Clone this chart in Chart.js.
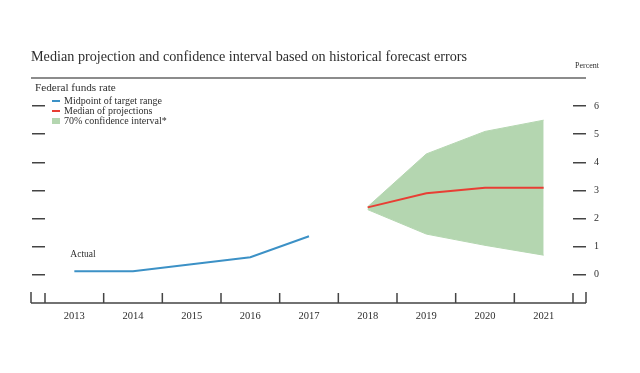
<!DOCTYPE html>
<html>
<head>
<meta charset="utf-8">
<title>Median projection and confidence interval</title>
<script src="https://cdn.jsdelivr.net/npm/chart.js@4.4.1/dist/chart.umd.min.js"></script>
<style>
  html, body { margin:0; padding:0; background:#fff; }
  #wrap { width:640px; height:373px; position:relative; }
</style>
</head>
<body>
<div id="wrap"><canvas id="fedChart"></canvas></div>
<script>
(function(){
  // values (percent)
  const years = ['2013','2014','2015','2016','2017','2018','2019','2020','2021'];
  const actualRate = [0.125, 0.125, 0.375, 0.625, 1.375, null, null, null, null];
  const medianProj = [null, null, null, null, null, 2.4, 2.9, 3.1, 3.1];
  const bandUpper  = [null, null, null, null, null, 2.42, 4.3, 5.1, 5.5];
  const bandLower  = [null, null, null, null, null, 2.32, 1.45, 1.05, 0.7];
  const yTicks = [0, 1, 2, 3, 4, 5, 6];

  const serif = "'Liberation Serif', 'DejaVu Serif', serif";
  const blue = 'rgb(60,145,198)';
  const red = 'rgb(232,62,52)';
  const green = 'rgb(180,214,176)';
  const ink = '#2e2e2e';
  const tickCol = '#444';

  // rule, x axis with upward ticks, key and small labels
  const decor = {
    id: 'decor',
    afterDraw(chart){
      const ctx = chart.ctx;
      const a = chart.chartArea;
      const x = chart.scales.x, y = chart.scales.y;
      const l = a.left - 14, r = a.right + 13;
      ctx.save();

      // grey rule under the title
      ctx.strokeStyle = '#8c8c8c';
      ctx.lineWidth = 2.2;
      ctx.beginPath(); ctx.moveTo(l, 78); ctx.lineTo(r, 78); ctx.stroke();

      // x axis
      ctx.strokeStyle = tickCol;
      ctx.lineWidth = 1.5;
      const base = a.bottom;
      const step = x.getPixelForValue(1) - x.getPixelForValue(0);
      const x0 = x.getPixelForValue(0) - step/2;
      ctx.beginPath();
      ctx.moveTo(l, base); ctx.lineTo(r, base);
      for(let i=0;i<=years.length;i++){
        const xi = x0 + i*step;
        ctx.moveTo(xi, base); ctx.lineTo(xi, base - 10);
      }
      ctx.moveTo(l, base); ctx.lineTo(l, base - 11);
      ctx.moveTo(r, base); ctx.lineTo(r, base - 11);
      ctx.stroke();

      // texts
      ctx.fillStyle = ink;
      ctx.textBaseline = 'middle';
      ctx.textAlign = 'right';
      ctx.font = '8px ' + serif;
      ctx.fillText('Percent', r + 13, 66);

      ctx.textAlign = 'left';
      ctx.font = '11.2px ' + serif;
      ctx.fillText('Federal funds rate', l + 4, 88);

      ctx.font = '9.5px ' + serif;
      ctx.fillText('Actual', x.getPixelForValue(0) - 4, y.getPixelForValue(actualRate[0]) - 17);

      // key
      ctx.font = '10px ' + serif;
      const keyX = a.left + 7;
      chart.data.datasets.slice(0, 3).forEach((ds, i) => {
        const cy = 101 + i*10;
        if(ds.fill){
          ctx.fillStyle = ds.backgroundColor;
          ctx.fillRect(keyX, cy - 3, 8, 6);
        } else {
          ctx.strokeStyle = ds.borderColor;
          ctx.lineWidth = ds.borderWidth;
          ctx.beginPath(); ctx.moveTo(keyX, cy); ctx.lineTo(keyX + 8, cy); ctx.stroke();
        }
        ctx.fillStyle = ink;
        ctx.fillText(ds.label, keyX + 12, cy);
      });
      ctx.restore();
    }
  };

  const tickAxis = (pos, width, showLabels) => ({
    position: pos,
    min: -1,
    max: 6.5,
    afterBuildTicks: s => { s.ticks = yTicks.map(v => ({value: v})); },
    grid: { drawOnChartArea: false, drawTicks: true, tickLength: 13, color: tickCol, lineWidth: 1.5 },
    border: { display: false },
    ticks: { display: showLabels, padding: 8, font: { family: serif, size: 10 }, color: ink },
    afterFit: s => { s.width = width; }
  });

  new Chart(document.getElementById('fedChart'), {
    type: 'line',
    data: {
      labels: years,
      datasets: [
        { label: 'Midpoint of target range', data: actualRate, borderColor: blue, borderWidth: 2, pointRadius: 0, fill: false },
        { label: 'Median of projections', data: medianProj, borderColor: red, borderWidth: 2, pointRadius: 0, fill: false },
        { label: '70% confidence interval*', data: bandUpper, borderColor: green, backgroundColor: green, borderWidth: 1, pointRadius: 0, fill: '+1' },
        { label: '', data: bandLower, borderColor: green, borderWidth: 1, pointRadius: 0, fill: false }
      ]
    },
    options: {
      responsive: true,
      maintainAspectRatio: false,
      animation: false,
      layout: { padding: { left: 31, right: 27, top: 40, bottom: 40 } },
      plugins: {
        legend: { display: false },
        tooltip: { enabled: false },
        title: {
          display: true,
          text: 'Median projection and confidence interval based on historical forecast errors',
          align: 'start',
          color: ink,
          font: { family: serif, size: 14.2, weight: 'normal' },
          padding: { top: 9, bottom: 26 }
        }
      },
      scales: {
        x: {
          type: 'category',
          position: 'bottom',
          offset: true,
          grid: { display: false, drawTicks: false },
          border: { display: false },
          ticks: { padding: 7, maxRotation: 0, font: { family: serif, size: 10.5 }, color: ink },
          afterFit: s => { s.height = 30; }
        },
        y: tickAxis('right', 40, true),
        y2: tickAxis('left', 14, false)
      }
    },
    plugins: [decor]
  });
})();
</script>
</body>
</html>
